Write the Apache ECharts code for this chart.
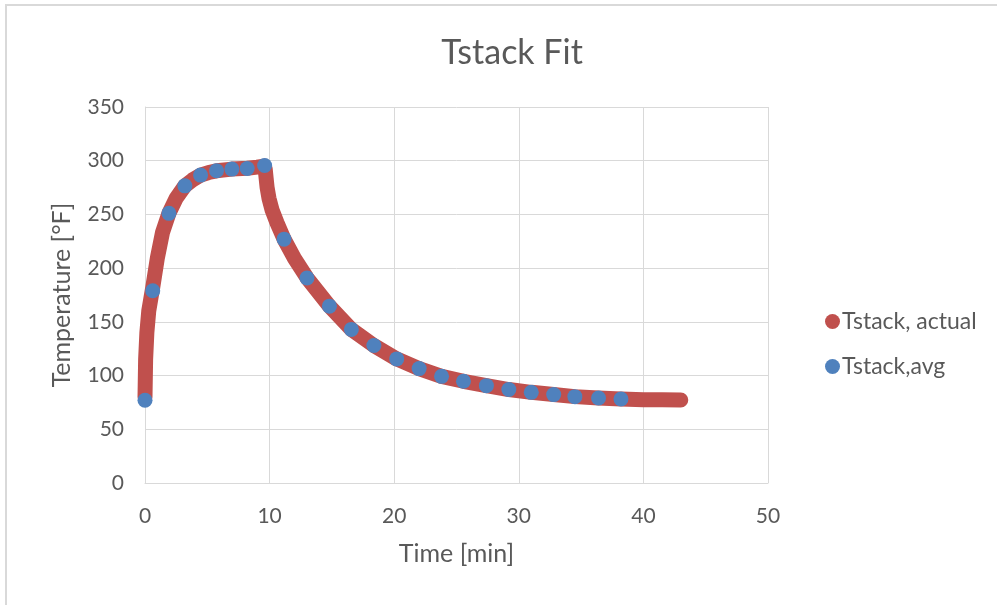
<!DOCTYPE html>
<html>
<head>
    <meta charset="utf-8">
    <script src="https://cdn.jsdelivr.net/npm/echarts@6/dist/echarts.min.js"></script>
    <style>
        html, body { margin: 0; padding: 0; background: #fff; }
    </style>
</head>
<body>
    <div id="chart" style="width: 997px;height:605px;"></div>
    <script>
        // Tstack, actual (red band)
        const actualTime = [0, 0.05, 0.15, 0.3, 0.62, 1.0, 1.4, 1.92, 2.5, 3.2, 3.8, 4.46, 5.1, 5.74, 6.97, 8.2, 9.0, 9.55,
            9.65, 9.72, 9.8, 9.95, 10.2, 10.6, 11.16, 12.0, 13.0, 14.8, 16.56, 18.37, 20.2, 22.0, 23.8, 25.56,
            27.4, 29.2, 31.0, 32.8, 34.5, 36.4, 38.2, 40.0, 41.5, 43.0];
        const actualTemp = [80, 115, 140, 160, 182, 210, 233, 251, 265, 276.6, 282, 286.6, 289, 290.6, 292.2, 293, 294, 295,
            292, 284, 275, 265, 254, 242, 227, 209, 191, 164.6, 143, 128, 115.5, 106.5, 99.3, 94.7,
            90.6, 87, 84.4, 82.3, 80.4, 79.1, 78.2, 77.6, 77.4, 77.3];

        // Tstack,avg (blue dots)
        const avgTime = [0, 0.62, 1.92, 3.2, 4.46, 5.74, 6.97, 8.2, 9.6, 11.16, 13.0, 14.8, 16.56, 18.37, 20.2, 22.0,
            23.8, 25.56, 27.4, 29.2, 31.0, 32.8, 34.5, 36.4, 38.2];
        const avgTemp = [77, 179, 251, 276.6, 286.6, 290.6, 292.2, 292.7, 295.5, 227, 190.8, 164.6, 143, 128, 115.5, 106.5,
            99.3, 94.7, 90.6, 87, 84.4, 82.3, 80.4, 79.1, 78.2];

        const textColor = '#595959';
        const gridColor = '#D9D9D9';
        const font = 'Lato';

        const chart = echarts.init(document.getElementById('chart'));
        const option = {
            animation: false,
            backgroundColor: '#fff',
            graphic: [{
                type: 'polyline',
                shape: { points: [[6, 610], [6, 5], [1000, 5]] },
                style: { stroke: gridColor, lineWidth: 2, fill: null }
            }],
            title: {
                text: 'Tstack Fit',
                left: 507,
                top: 31,
                textAlign: 'center',
                textStyle: { fontFamily: font, fontSize: 34, fontWeight: 'normal', color: textColor }
            },
            legend: {
                orient: 'vertical',
                left: 820,
                top: 305,
                itemWidth: 15,
                itemHeight: 15,
                itemGap: 22,
                icon: 'circle',
                textStyle: { fontFamily: font, fontSize: 23, color: textColor, padding: [0, 0, 0, -3] },
                data: ['Tstack, actual', 'Tstack,avg']
            },
            grid: { left: 145, right: 229, top: 107, bottom: 122 },
            xAxis: {
                type: 'value',
                min: 0, max: 50, interval: 10,
                name: 'Time [min]',
                nameLocation: 'middle',
                nameGap: 58,
                nameTextStyle: { fontFamily: font, fontSize: 25, color: textColor },
                axisLine: { show: true, lineStyle: { color: gridColor } },
                axisTick: { show: false },
                axisLabel: { fontFamily: font, fontSize: 21, color: textColor, margin: 23 },
                splitLine: { show: true, lineStyle: { color: gridColor, width: 1 } }
            },
            yAxis: {
                type: 'value',
                min: 0, max: 350, interval: 50,
                name: 'Temperature [°F]',
                nameLocation: 'middle',
                nameGap: 71,
                nameTextStyle: { fontFamily: font, fontSize: 25, color: textColor },
                axisLine: { show: true, lineStyle: { color: gridColor } },
                axisTick: { show: false },
                axisLabel: { fontFamily: font, fontSize: 21, color: textColor, margin: 21 },
                splitLine: { show: true, lineStyle: { color: gridColor, width: 1 } }
            },
            series: [{
                name: 'Tstack, actual',
                type: 'line',
                data: actualTime.map((t, i) => [t, actualTemp[i]]),
                showSymbol: false,
                symbol: 'circle',
                color: '#C0504D',
                lineStyle: { color: '#C0504D', width: 15, cap: 'round', join: 'round' },
                z: 2
            }, {
                name: 'Tstack,avg',
                type: 'scatter',
                data: avgTime.map((t, i) => [t, avgTemp[i]]),
                symbol: 'circle',
                symbolSize: 15,
                itemStyle: { color: '#4F81BD', opacity: 1 },
                z: 3
            }]
        };
        chart.setOption(option);
    </script>
</body>
</html>
